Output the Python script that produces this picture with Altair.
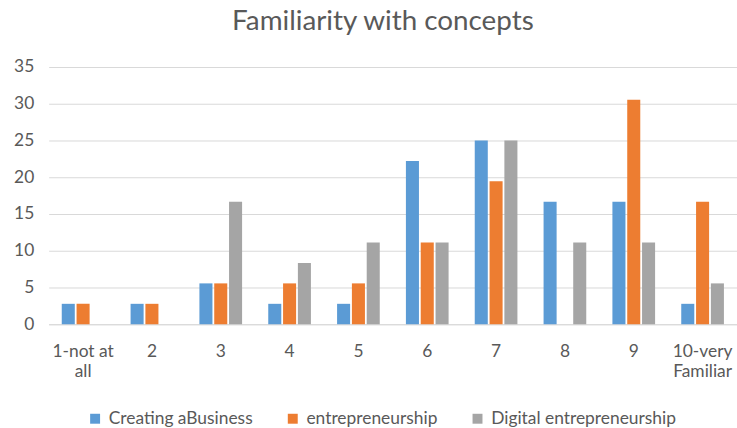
import altair as alt
import pandas as pd

categories = ["1-not at|all", "2", "3", "4", "5", "6", "7", "8", "9", "10-very|Familiar"]
series = ["Creating aBusiness", "entrepreneurship", "Digital entrepreneurship"]
creating = [2.78, 2.78, 5.56, 2.78, 2.78, 22.22, 25.0, 16.67, 16.67, 2.78]
entre = [2.78, 2.78, 5.56, 5.56, 5.56, 11.11, 19.44, 0, 30.56, 16.67]
digital = [0, 0, 16.67, 8.33, 11.11, 11.11, 25.0, 11.11, 11.11, 5.56]
colors = ["#5B9BD5", "#ED7D31", "#A5A5A5"]

rows = []
for name, vals in zip(series, [creating, entre, digital]):
    for c, v in zip(categories, vals):
        rows.append({"cat": c, "series": name, "value": v})
df = pd.DataFrame(rows)

FONT = "Lato"
FS = 17.5

chart = alt.Chart(df).mark_bar().encode(
    x=alt.X("cat:N", sort=categories, title=None,
            scale=alt.Scale(paddingInner=0.38, paddingOuter=0.19),
            axis=alt.Axis(labelAngle=0, ticks=False, domainColor="#d9d9d9",
                          labelPadding=18, labelFontSize=FS, labelColor="#595959",
                          labelFont=FONT, labelLineHeight=21,
                          labelExpr="split(datum.label, '|')")),
    xOffset=alt.XOffset("series:N", sort=series, scale=alt.Scale(paddingInner=0.12)),
    y=alt.Y("value:Q", title=None,
            scale=alt.Scale(domain=[0, 35]),
            axis=alt.Axis(values=[0, 5, 10, 15, 20, 25, 30, 35], domain=False, ticks=False,
                          gridColor="#d9d9d9", labelPadding=15, labelFontSize=FS,
                          labelColor="#595959", labelFont=FONT)),
    color=alt.Color("series:N", sort=series,
                    scale=alt.Scale(domain=series, range=colors),
                    legend=alt.Legend(title=None, orient="none", direction="horizontal",
                                      legendX=38, legendY=345, symbolType="square",
                                      symbolSize=100, symbolStrokeWidth=0,
                                      labelFontSize=FS, labelColor="#595959",
                                      labelFont=FONT, columnPadding=31,
                                      labelOffset=5, labelLimit=400)),
).properties(
    width=693, height=259,
    title=alt.TitleParams("Familiarity with concepts", fontSize=28, font=FONT,
                          fontWeight="normal", color="#595959", offset=22,
                          anchor="middle", dx=-10),
    autosize=alt.AutoSizeParams(type="none"),
    padding={"left": 49, "top": 66, "right": 0, "bottom": 103},
).configure_view(stroke=None)

chart.save("out.html", embed_options={"renderer": "svg", "actions": False})
